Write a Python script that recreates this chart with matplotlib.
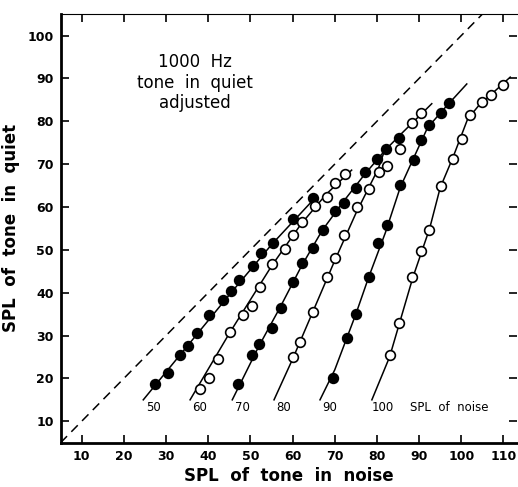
import numpy as np
import matplotlib.pyplot as plt

# nivel de ruido de cada curva
niveles = [50, 60, 70, 80, 90, 100]
relleno = [True, False, True, False, True, False]

# puntos medidos (SPL en ruido, SPL en silencio)
x_50 = [27.4, 30.4, 33.4, 35.3, 37.4, 40.3, 43.4, 45.3, 47.4, 50.5, 52.5, 55.3, 60.0, 64.9]
y_50 = [18.8, 21.2, 25.5, 27.6, 30.7, 34.7, 38.2, 40.5, 43.0, 46.3, 49.3, 51.5, 57.2, 62.1]
x_60 = [38.1, 40.3, 42.4, 45.2, 48.3, 50.3, 52.3, 55.2, 58.2, 60.2, 62.2, 65.2, 68.1, 70.1, 72.5]
y_60 = [17.5, 20.1, 24.6, 30.8, 34.8, 37.0, 41.4, 46.6, 50.1, 53.4, 56.4, 60.2, 62.4, 65.5, 67.6]
x_70 = [47.0, 50.3, 52.1, 55.1, 57.2, 60.2, 62.3, 64.9, 67.1, 70.1, 72.2, 75.1, 77.2, 80.0, 82.2, 85.3]
y_70 = [18.8, 25.4, 28.1, 31.7, 36.4, 42.4, 47.0, 50.5, 54.6, 59.1, 61.0, 64.5, 68.2, 71.1, 73.5, 76.2]
x_80 = [60.0, 61.8, 64.9, 68.1, 70.1, 72.1, 75.2, 78.1, 80.4, 82.5, 85.5, 88.4, 90.4]
y_80 = [25.1, 28.6, 35.4, 43.7, 48.0, 53.4, 60.0, 64.3, 68.2, 69.5, 73.6, 79.6, 82.0]
x_90 = [69.7, 72.8, 75.1, 78.1, 80.2, 82.3, 85.5, 88.7, 90.4, 92.4, 95.1, 97.2]
y_90 = [20.2, 29.4, 35.1, 43.7, 51.7, 55.8, 65.2, 70.9, 75.6, 79.2, 81.9, 84.2]
x_100 = [83.1, 85.3, 88.4, 90.4, 92.4, 95.1, 98.1, 100.1, 102.1, 105.0, 107.0, 110.0]
y_100 = [25.4, 32.9, 43.6, 49.8, 54.6, 64.8, 71.3, 75.9, 81.4, 84.5, 86.2, 88.4]

# curvas ajustadas (trazadas a mano en el original)
cx_50 = [24.6, 35.0, 45.0, 55.0, 65.5]
cy_50 = [15.0, 27.5, 39.5, 51.2, 62.3]
cx_60 = [35.7, 45.0, 55.0, 62.0, 68.0, 74.0]
cy_60 = [15.0, 30.5, 46.2, 56.0, 63.0, 68.6]
cx_70 = [45.7, 52.0, 57.0, 62.0, 67.0, 72.0, 77.0, 82.0, 86.0, 93.0]
cy_70 = [15.0, 27.5, 36.5, 46.0, 54.5, 61.2, 67.5, 73.3, 77.3, 84.1]
cx_80 = [55.6, 60.0, 65.0, 70.0, 75.0, 80.3, 81.5]
cy_80 = [15.0, 24.5, 36.0, 47.5, 58.5, 68.9, 72.3]
cx_90 = [66.5, 70.0, 75.0, 78.0, 82.0, 85.5, 88.5, 92.0, 96.0, 101.3]
cy_90 = [15.0, 22.0, 35.0, 43.5, 54.0, 64.5, 71.0, 78.5, 83.0, 88.7]
cx_100 = [78.8, 83.0, 88.5, 92.5, 95.0, 98.0, 101.5, 104.0, 111.6]
cy_100 = [15.0, 25.0, 43.5, 55.0, 64.5, 71.5, 80.5, 83.5, 90.3]

etiquetas_x = [27.0, 37.9, 48.2, 57.8, 68.9, 81.5]

puntos_x = [x_50, x_60, x_70, x_80, x_90, x_100]
puntos_y = [y_50, y_60, y_70, y_80, y_90, y_100]
curvas_x = [cx_50, cx_60, cx_70, cx_80, cx_90, cx_100]
curvas_y = [cy_50, cy_60, cy_70, cy_80, cy_90, cy_100]

plt.rcParams['font.family'] = 'DejaVu Sans'
fig = plt.figure(figsize=(5.18, 4.87), dpi=100)
ax = fig.add_axes([0.117, 0.091, 0.881, 0.880])

# diagonal de igualdad
ax.plot([5, 113], [5, 113], color='black', lw=1.1, dashes=(6, 4))

for i in range(len(niveles)):
    ax.plot(curvas_x[i], curvas_y[i], color='black', lw=1.1, zorder=2)
    ax.plot(puntos_x[i], puntos_y[i], ls='none', marker='o', ms=7.0,
            mfc='black' if relleno[i] else 'white', mec='black', mew=1.2, zorder=3)
    ax.text(etiquetas_x[i], 13.2, str(niveles[i]), ha='center', va='center', fontsize=8.5)
ax.text(87.9, 13.2, 'SPL  of  noise', ha='left', va='center', fontsize=8.5)

ax.text(36.9, 89.0, '1000  Hz\ntone  in  quiet\nadjusted', ha='center', va='center',
        fontsize=12, linespacing=1.2)

ax.set_xlim(5, 113.2)
ax.set_ylim(5, 105)
ax.set_xticks(np.arange(10, 111, 10))
ax.set_yticks(np.arange(10, 101, 10))
ax.tick_params(direction='in', length=6, width=1.2, labelsize=9,
               top=True, right=True, pad=5)
for lab in ax.get_xticklabels() + ax.get_yticklabels():
    lab.set_fontweight('bold')
ax.spines['left'].set_linewidth(2)
ax.spines['bottom'].set_linewidth(2)
ax.spines['top'].set_linewidth(0.8)
ax.spines['right'].set_visible(False)

ax.set_xlabel('SPL  of  tone  in  noise', fontsize=12, fontweight='bold', labelpad=3)
ax.set_ylabel('SPL  of  tone  in  quiet', fontsize=12, fontweight='bold', labelpad=5)

fig.savefig('out.png', dpi=100)
